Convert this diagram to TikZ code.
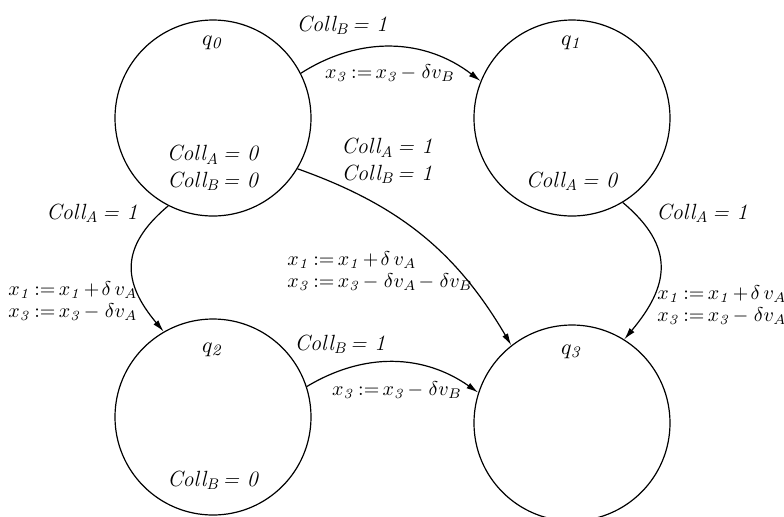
\documentclass[tikz,border=0pt]{standalone}
\usetikzlibrary{arrows.meta}

\tikzset{
  state/.style={circle, draw, line width=0.6pt, minimum size=98pt, inner sep=0pt},
  trans/.style={-{Latex[length=6pt,width=3.2pt]}, line width=0.6pt},
  lbl/.style={inner sep=0pt, font=\fontsize{11}{13.5}\selectfont},
  upd/.style={inner sep=0pt, font=\fontsize{10.2}{11}\selectfont},
  act/.style={upd, align=left, anchor=west},
}
\newcommand{\coll}[2]{\textit{Coll\textsubscript{#1}\,= #2}}
\newcommand{\xs}[1]{x_{\mathit{#1}}}

\begin{document}
\thickmuskip=3mu\relax
\medmuskip=2mu\relax
\begin{tikzpicture}[x=0.5pt, y=0.5pt]
\useasboundingbox (0,0) rectangle (784,-516);
% states
\node[state] (q0) at (213,-118) {};
\node[state] (q1) at (572,-118) {};
\node[state] (q2) at (213,-417) {};
\node[state] (q3) at (572,-423) {};
% state names and invariants
\node[lbl] (q0name) at (213,-43) {$q_{\mathit{0}}$};
\node[lbl] (q1name) at (572,-43) {$q_{\mathit{1}}$};
\node[lbl] (q2name) at (213,-350) {$q_{\mathit{2}}$};
\node[lbl] (q3name) at (572,-352) {$q_{\mathit{3}}$};
\node[lbl, align=center] (q0inv) at (213,-168) {\coll{A}{0}\\\coll{B}{0}};
\node[lbl] (q1inv) at (572,-181) {\coll{A}{0}};
\node[lbl] (q2inv) at (213,-480) {\coll{B}{0}};
% transitions
\draw[trans] (q0.27) to[bend left=35] (q1.158);
\draw[trans] (q0.-31) to[bend left=20] (q3.128);
\draw[trans] (q0.-117) to[out=-140, in=130, looseness=1.3] (q2.120);
\draw[trans] (q1.-59) to[out=-40, in=50, looseness=1.3] (q3.58);
\draw[trans] (q2.18) to[bend left=33] (q3.162);
% guards and updates
\node[lbl] (g01) at (342,-25) {\coll{B}{1}};
\node[upd] (u01) at (390,-73) {$\xs3 := \xs3 -\,\delta v_B$};
\node[lbl, align=center] (g03) at (387,-161) {\coll{A}{1}\\\coll{B}{1}};
\node[act] (u03) at (287,-271) {$\xs1 := \xs1 + \delta\,v_A$\\$\xs3 := \xs3 -\,\delta v_A -\,\delta v_B$};
\node[lbl] (g02) at (92,-213) {\coll{A}{1}};
\node[act] (u02) at (8,-301) {$\xs1 := \xs1 + \delta\,v_A$\\$\xs3 := \xs3 -\,\delta v_A$};
\node[lbl] (g13) at (702,-213) {\coll{A}{1}};
\node[act] (u13) at (657,-305) {$\xs1 := \xs1 + \delta\,v_A$\\$\xs3 := \xs3 -\,\delta v_A$};
\node[lbl] (g23) at (340,-344) {\coll{B}{1}};
\node[upd] (u23) at (397,-390) {$\xs3 := \xs3 -\,\delta v_B$};
\end{tikzpicture}
\end{document}
